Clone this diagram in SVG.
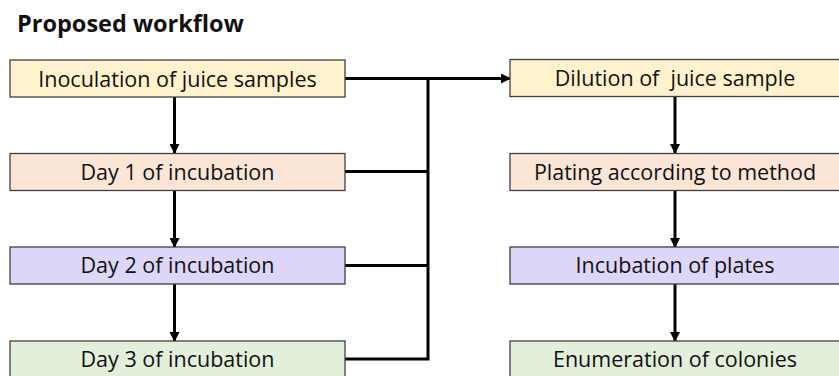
<svg xmlns="http://www.w3.org/2000/svg" width="839" height="376" viewBox="0 0 839 376">
<defs>
<marker id="ah" markerWidth="10" markerHeight="10" refX="9" refY="5" orient="auto" markerUnits="userSpaceOnUse">
<path d="M0,0 L10,5 L0,10 Z" fill="#000"/>
</marker>
<style>
.box{stroke:#404040;stroke-width:1.3}
.y{fill:#FFF2CC}.p{fill:#FBE5D6}.v{fill:#DDD6F8}.g{fill:#E2EFDA}
.t{font-family:"Open Sans","Noto Sans",sans-serif;font-size:21.5px;fill:#111;text-anchor:middle;white-space:pre}
.c{stroke:#000;stroke-width:3;fill:none}
</style>
</defs>
<rect width="839" height="376" fill="#fff"/>
<text x="17" y="32" font-family="Open Sans, Noto Sans, sans-serif" font-weight="bold" font-size="23.5" fill="#111">Proposed workflow</text>
<g id="connectors">
<line class="c" x1="174.5" y1="97" x2="174.5" y2="153" marker-end="url(#ah)"/>
<line class="c" x1="174.5" y1="191" x2="174.5" y2="247" marker-end="url(#ah)"/>
<line class="c" x1="174.5" y1="284" x2="174.5" y2="341" marker-end="url(#ah)"/>
<line class="c" x1="675" y1="96" x2="675" y2="153" marker-end="url(#ah)"/>
<line class="c" x1="675" y1="191" x2="675" y2="247" marker-end="url(#ah)"/>
<line class="c" x1="675" y1="284" x2="675" y2="341" marker-end="url(#ah)"/>
<path class="c" d="M345,78.5 H428 M345,171.5 H428 M345,265.5 H428 M345,359 H428 M428,78.5 V360.5"/>
<line class="c" x1="428" y1="78.5" x2="510" y2="78.5" marker-end="url(#ah)"/>
</g>
<g id="n1"><rect class="box y" x="10" y="60" width="335" height="37"/><text class="t" x="177.5" y="86.5">Inoculation of juice samples</text></g>
<g id="n2"><rect class="box p" x="10" y="153.5" width="335" height="37"/><text class="t" x="177.5" y="179.5">Day 1 of incubation</text></g>
<g id="n3"><rect class="box v" x="10" y="247" width="335" height="37"/><text class="t" x="177.5" y="273">Day 2 of incubation</text></g>
<g id="n4"><rect class="box g" x="10" y="341" width="335" height="37"/><text class="t" x="177.5" y="366.5">Day 3 of incubation</text></g>
<g id="n5"><rect class="box y" x="510" y="59.5" width="335" height="37"/><text class="t" x="675" y="86">Dilution of  juice sample</text></g>
<g id="n6"><rect class="box p" x="510" y="153.5" width="335" height="37"/><text class="t" x="675" y="179.5">Plating according to method</text></g>
<g id="n7"><rect class="box v" x="510" y="247" width="335" height="37"/><text class="t" x="675" y="273">Incubation of plates</text></g>
<g id="n8"><rect class="box g" x="510" y="341" width="335" height="37"/><text class="t" x="675" y="366.5">Enumeration of colonies</text></g>
</svg>
